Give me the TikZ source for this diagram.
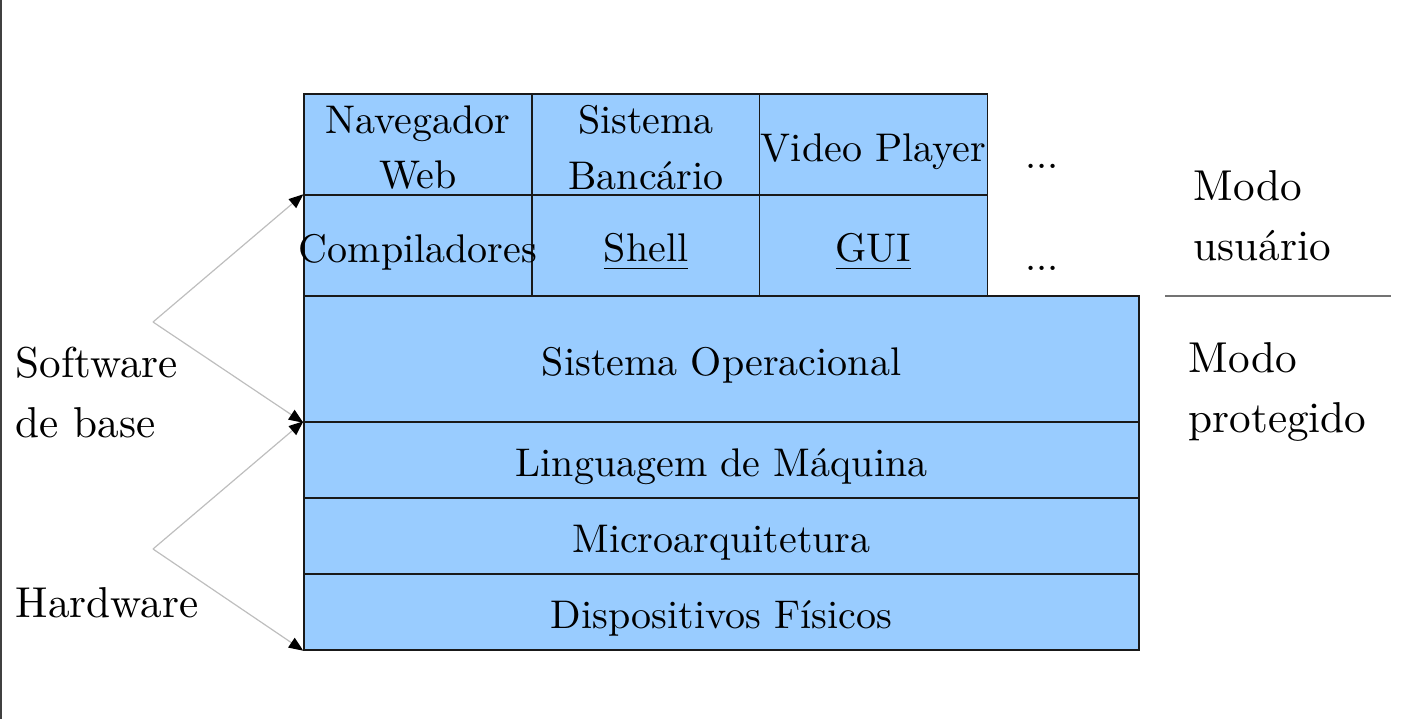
\documentclass[tikz,border=0pt]{standalone}
\usetikzlibrary{arrows.meta}
\definecolor{boxblue}{RGB}{153,204,255}
\definecolor{linegray}{RGB}{190,190,190}
\begin{document}
\begin{tikzpicture}[x=0.25pt,y=-0.25pt,
  layer/.style={draw=black!90,line width=0.35pt,fill=boxblue,inner sep=0pt},
  cell/.style={layer,minimum width=57pt,minimum height=25.25pt},
  wide/.style={layer,minimum width=208.75pt},
  txt/.style={inner sep=0pt,align=center,font=\fontsize{10}{13.8}\selectfont},
  side/.style={inner sep=0pt,align=left,anchor=west,font=\fontsize{10.8}{15}\selectfont},
  dots/.style={inner sep=0pt,font=\fontsize{10}{12}\selectfont},
  pointer/.style={draw=linegray,line width=0.3pt,-{Triangle[black,length=3.6pt,width=2.9pt]}}]
\useasboundingbox (0,0) rectangle (1413,719);
\draw[line width=0.5pt,black!75] (0.5,0) -- (0.5,719);
% top rows
\node[cell] (nav) at (418,144.5) {};
\node[cell] (ban) at (646,144.5) {};
\node[cell] (vid) at (873.5,144.5) {};
\node[cell] (comp) at (418,245.5) {};
\node[cell] (shell) at (646,245.5) {};
\node[cell] (gui) at (873.5,245.5) {};
\node[txt] (navt) at ([yshift=-0.8pt]nav.center) {Navegador\\Web};
\node[txt] (bant) at ([yshift=-0.8pt]ban.center) {Sistema\\Banc\'ario};
\node[txt] (vidt) at ([yshift=-1.7pt]vid.center) {\makebox[0pt]{Video Player}};
\node[txt] (compt) at ([yshift=-1.7pt]comp.center) {\makebox[0pt]{Compiladores}};
\node[txt] (shellt) at ([yshift=-1.7pt]shell.center) {\underline{Shell}};
\node[txt] (guit) at ([yshift=-1.7pt]gui.center) {\underline{GUI}};
\node[dots] (d1) at (1042,166) {...};
\node[dots] (d2) at (1042,268) {...};
% layers
\node[wide,minimum height=31.5pt] (so) at (721.5,359) {};
\node[wide,minimum height=19pt] (ling) at (721.5,460) {};
\node[wide,minimum height=19pt] (micro) at (721.5,536) {};
\node[wide,minimum height=19pt] (disp) at (721.5,612) {};
\node[txt] (sot) at ([yshift=-1.6pt]so.center) {Sistema Operacional};
\node[txt] (lingt) at ([yshift=-1.7pt]ling.center) {Linguagem de M\'aquina};
\node[txt] (microt) at ([yshift=-1.8pt]micro.center) {Microarquitetura};
\node[txt] (dispt) at ([yshift=-1.7pt]disp.center) {Dispositivos F\'isicos};
% right labels
\node[side] (usr) at (1193,216) {Modo\\usu\'ario};
\coordinate (sepL) at (1165,296);
\coordinate (sepR) at (1391,296);
\draw[black!55,line width=0.5pt] (sepL) -- (sepR);
\node[side] (prot) at (1188,392) {Modo\\protegido};
% left labels
\node[side] (sw) at (15,392.5) {Software\\de base};
\node[side] (hw) at (15,603) {Hardware};
\coordinate (swp) at (153,322);
\coordinate (hwp) at (153,549);
\draw[pointer] (swp) -- (comp.north west);
\draw[pointer] (swp) -- (so.south west);
\draw[pointer] (hwp) -- (ling.north west);
\draw[pointer] (hwp) -- (disp.south west);
\end{tikzpicture}
\end{document}
